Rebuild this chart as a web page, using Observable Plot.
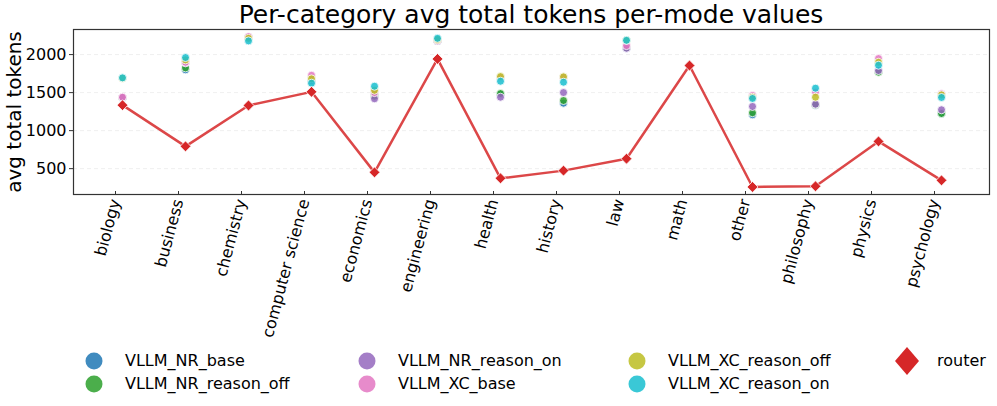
<!DOCTYPE html>
<html>
<head>
<meta charset="utf-8">
<script src="https://cdn.jsdelivr.net/npm/d3@7"></script>
<script src="https://cdn.jsdelivr.net/npm/@observablehq/plot@0.6"></script>
<style>
  html, body { margin: 0; padding: 0; background: #fff; }
  body { width: 997px; height: 406px; position: relative; overflow: hidden; font-family: "DejaVu Sans", sans-serif; }
  #title { position: absolute; left: 73px; width: 916px; top: 0; height: 30px; text-align: center; font-size: 25px; line-height: 30px; color: #000; z-index: 2; }
  #chart { position: absolute; left: 0; top: 25px; z-index: 1; }
  #chart svg { background: transparent !important; }
  #legend { position: absolute; left: 0; top: 345px; width: 997px; height: 61px; z-index: 2; }
  .item { position: absolute; font-size: 16px; color: #000; white-space: nowrap; }
  .mk { position: absolute; }
</style>
</head>
<body>
<div id="title">Per-category avg total tokens per-mode values</div>
<div id="chart"></div>
<div id="legend"></div>
<script>
const categories = ["biology", "business", "chemistry", "computer science", "economics", "engineering", "health", "history", "law", "math", "other", "philosophy", "physics", "psychology"];
const seriesNames = ["VLLM_NR_base", "VLLM_NR_reason_off", "VLLM_NR_reason_on", "VLLM_XC_base", "VLLM_XC_reason_off", "VLLM_XC_reason_on"];
const seriesColors = ["#1f77b4", "#2ca02c", "#9467bd", "#e377c2", "#bcbd22", "#17becf"];
const VLLM_NR_base       = [1430, 1800, 2225, 1640, 1479, 2180, 1480, 1361, 2083, null, 1209, 1335, 1775, 1222];
const VLLM_NR_reason_off = [1435, 1825, 2225, 1650, 1453, 2185, 1488, 1396, 2090, null, 1235, 1340, 1768, 1225];
const VLLM_NR_reason_on  = [1436, 1891, 2230, 1660, 1419, 2180, 1440, 1501, 2083, null, 1318, 1348, 1790, 1274];
const VLLM_XC_base       = [1440, 1900, 2236, 1728, 1500, 2190, 1700, 1700, 2118, null, 1462, 1505, 1948, 1484];
const VLLM_XC_reason_off = [1690, 1930, 2214, 1681, 1531, 2200, 1711, 1707, 2188, null, 1440, 1440, 1899, 1470];
const VLLM_XC_reason_on  = [1694, 1961, 2180, 1624, 1584, 2214, 1650, 1637, 2188, null, 1423, 1558, 1860, 1436];
const router             = [1335, 793, 1331, 1510, 451, 1943, 373, 474, 631, 1856, 259, 268, 858, 346];
const yTicks = [500, 1000, 1500, 2000];
const routerColor = "#d62728";

const seriesValues = [VLLM_NR_base, VLLM_NR_reason_off, VLLM_NR_reason_on, VLLM_XC_base, VLLM_XC_reason_off, VLLM_XC_reason_on];
const dots = [];
seriesNames.forEach((s, i) => {
  categories.forEach((c, j) => {
    const v = seriesValues[i][j];
    if (v != null) dots.push({series: s, category: c, value: v});
  });
});
const routerData = categories.map((c, j) => ({category: c, value: router[j]}));

const chart = Plot.plot({
  width: 997,
  height: 320,
  marginTop: 4,
  marginBottom: 151,
  marginLeft: 73,
  marginRight: 8,
  style: {fontFamily: "DejaVu Sans, sans-serif", fontSize: "16px", color: "#000", background: "transparent", overflow: "visible"},
  x: {type: "point", domain: categories, padding: 0.73},
  y: {domain: [160, 2330]},
  color: {domain: seriesNames, range: seriesColors},
  marks: [
    Plot.gridY(yTicks, {stroke: "#ebebeb", strokeOpacity: 1, strokeDasharray: "4,3", strokeWidth: 0.8}),
    Plot.axisY(yTicks, {tickSize: 4, tickPadding: 3, fontSize: 16, label: null, stroke: "#333", tickFormat: d => String(d)}),
    Plot.axisX({tickRotate: -75, tickSize: 4, tickPadding: 4, fontSize: 16, label: null, stroke: "#333", dx: -7, dy: -3}),
    Plot.dot(dots, {x: "category", y: "value", fill: "series", fillOpacity: 0.85, r: 4, stroke: "white", strokeWidth: 0.8}),
    Plot.line(routerData, {x: "category", y: "value", stroke: routerColor, strokeOpacity: 0.85, strokeWidth: 2.5}),
    Plot.dot(routerData, {x: "category", y: "value", symbol: "diamond2", r: 4.9, fill: routerColor, stroke: "white", strokeWidth: 0.8}),
    Plot.frame({stroke: "#333", strokeWidth: 1.2}),
    Plot.text(["avg total tokens"], {frameAnchor: "left", dx: -59, rotate: -90, fontSize: 20, textAnchor: "middle"})
  ]
});
document.getElementById("chart").appendChild(chart);

// Legend
const legend = document.getElementById("legend");
const cols = [[94, 125], [367, 398], [637, 668], [907, 937]];
const rows = [16, 39];
const entries = seriesNames.map((s, i) => ({name: s, color: seriesColors[i], shape: "circle"}));
entries.push({name: "router", color: routerColor, shape: "diamond"});
const positions = [[0,0],[0,1],[1,0],[1,1],[2,0],[2,1],[3,0]];
entries.forEach((e, i) => {
  const [ci, ri] = positions[i];
  const cx = cols[ci][0], tx = cols[ci][1], cy = rows[ri];
  const ns = "http://www.w3.org/2000/svg";
  const svg = document.createElementNS(ns, "svg");
  svg.setAttribute("class", "mk");
  svg.setAttribute("width", 30);
  svg.setAttribute("height", 30);
  svg.style.left = (cx - 15) + "px";
  svg.style.top = (cy - 15) + "px";
  if (e.shape === "circle") {
    const c = document.createElementNS(ns, "circle");
    c.setAttribute("cx", 15); c.setAttribute("cy", 15); c.setAttribute("r", 8.5);
    c.setAttribute("fill", e.color); c.setAttribute("fill-opacity", 0.85);
    svg.appendChild(c);
  } else {
    const p = document.createElementNS(ns, "path");
    p.setAttribute("d", "M15,1 L27,15 L15,29 L3,15 Z");
    p.setAttribute("fill", e.color);
    svg.appendChild(p);
  }
  legend.appendChild(svg);
  const t = document.createElement("div");
  t.className = "item";
  t.textContent = e.name;
  t.style.left = tx + "px";
  t.style.top = (cy - 10) + "px";
  t.style.lineHeight = "20px";
  legend.appendChild(t);
});
</script>
</body>
</html>
